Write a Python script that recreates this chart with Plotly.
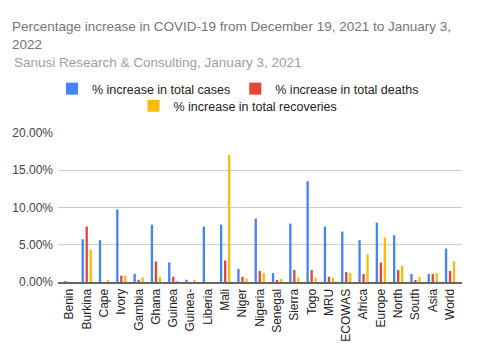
import plotly.graph_objects as go

categories = ["Benin", "Burkina", "Cape", "Ivory", "Gambia", "Ghana", "Guinea", "Guinea-",
              "Liberia", "Mali", "Niger", "Nigeria", "Senegal", "Sierra", "Togo", "MRU",
              "ECOWAS", "Africa", "Europe", "North", "South", "Asia", "World"]
cases = [0.10, 5.74, 5.61, 9.75, 1.10, 7.70, 2.63, 0.30, 7.44, 7.70, 1.74, 8.50, 1.20,
         7.84, 13.53, 7.44, 6.77, 5.61, 7.97, 6.28, 1.07, 1.07, 4.50]
deaths = [0.0, 7.44, 0.0, 0.85, 0.30, 2.76, 0.70, 0.0, 0.0, 2.90, 0.70, 1.47, 0.18,
          1.60, 1.60, 0.70, 1.34, 1.07, 2.63, 1.60, 0.18, 1.07, 1.47]
recoveries = [0.0, 4.36, 0.30, 0.85, 0.60, 0.70, 0.13, 0.20, 0.0, 17.05, 0.45, 1.20, 0.40,
              0.58, 0.58, 0.58, 1.20, 3.70, 6.00, 2.14, 0.70, 1.20, 2.80]
series_names = ["% increase in total cases", "% increase in total deaths",
                "% increase in total recoveries"]
colors = ["#4285F4", "#EA4335", "#FBBC04"]

FONT = "Arial, Liberation Sans, sans-serif"

# page body has an 8px default margin, so the figure is sized/positioned to compensate
W, H = 472, 352
L, R, T, B = 50, 18, 125, 78
PH = H - T - B
PW = W - L - R

fig = go.Figure()
for name, vals, col, lg in zip(series_names, [cases, deaths, recoveries], colors,
                               ["legend", "legend", "legend2"]):
    fig.add_trace(go.Bar(
        x=categories, y=[v / 100 for v in vals], name=name,
        marker=dict(color=col, line=dict(width=0)), legend=lg,
    ))

fig.update_layout(
    width=W, height=H,
    paper_bgcolor="white", plot_bgcolor="white",
    margin=dict(l=L, r=R, t=T, b=B, autoexpand=False),
    font=dict(family=FONT, size=12, color="#222222"),
    barmode="group", bargap=0.306, bargroupgap=0.42,
    title=dict(
        text="Percentage increase in COVID-19 from December 19, 2021 to January 3,<br>2022",
        x=4 / W, xref="container", xanchor="left",
        y=1 - 23 / H, yref="container", yanchor="top",
        font=dict(family=FONT, size=13.5, color="#757575"),
        automargin=False,
    ),
    annotations=[dict(
        text="Sanusi Research & Consulting, January 3, 2021",
        xref="paper", yref="paper",
        x=(4 - L) / PW, y=1 + (T - 45) / PH,
        xanchor="left", yanchor="top", showarrow=False,
        font=dict(family=FONT, size=13.5, color="#9E9E9E"),
    )],
    legend=dict(
        orientation="h", xref="container", yref="container",
        x=230 / W, xanchor="center", y=1 - 81 / H, yanchor="middle",
        font=dict(family=FONT, size=12.5, color="#222222"),
        bgcolor="rgba(0,0,0,0)",
    ),
    legend2=dict(
        orientation="h", xref="container", yref="container",
        x=230 / W, xanchor="center", y=1 - 98 / H, yanchor="middle",
        font=dict(family=FONT, size=12.5, color="#222222"),
        bgcolor="rgba(0,0,0,0)",
    ),
    xaxis=dict(
        range=[-0.66, 22.69], tickangle=-90, showgrid=False,
        showline=True, linecolor="#666666", linewidth=2,
        tickfont=dict(family=FONT, size=12, color="#222222"),
        ticks="", fixedrange=True, automargin=False,
    ),
    yaxis=dict(
        range=[0, 0.2], dtick=0.05, tickformat=".2%",
        showgrid=True, gridcolor="#CCCCCC", gridwidth=1,
        zeroline=False, ticks="", ticklabelstandoff=4, automargin=False,
        tickfont=dict(family=FONT, size=12, color="#444444"),
    ),
)

fig.write_html("out.html")
